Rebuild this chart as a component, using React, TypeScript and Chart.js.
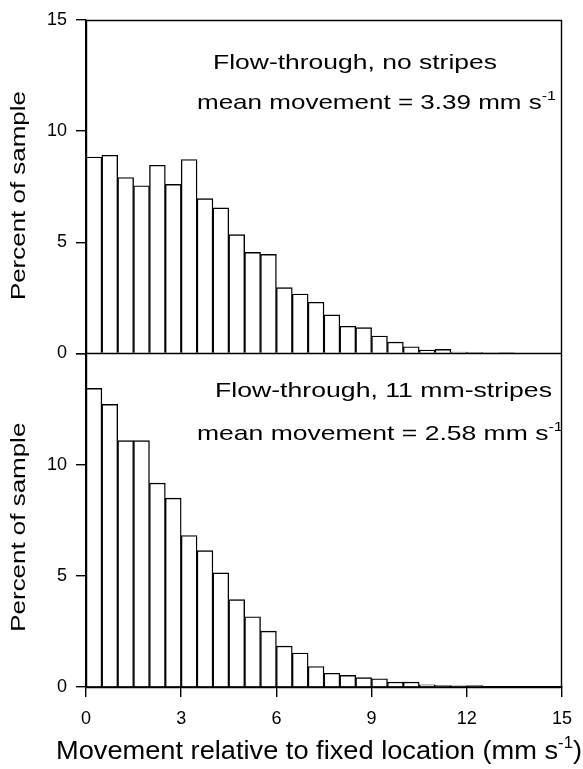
import React, { useEffect, useRef } from 'react';
import { Chart, registerables } from 'chart.js';

Chart.register(...registerables);

// Bin centres of the 0.5 mm/s histogram bins (mm s-1)
const BIN_CENTERS = [
  0.25, 0.75, 1.25, 1.75, 2.25, 2.75, 3.25, 3.75, 4.25, 4.75,
  5.25, 5.75, 6.25, 6.75, 7.25, 7.75, 8.25, 8.75, 9.25, 9.75,
  10.25, 10.75, 11.25, 11.75, 12.25, 12.75, 13.25,
];

// Percent of sample, flow-through, no stripes
const TOP_VALUES = [
  8.83, 8.91, 7.91, 7.54, 8.46, 7.6, 8.72, 6.96, 6.54, 5.34,
  4.54, 4.45, 2.96, 2.67, 2.3, 1.73, 1.22, 1.16, 0.78, 0.51,
  0.3, 0.15, 0.18, 0.06, 0.05, 0.03, 0.04,
];

// Percent of sample, flow-through, 11 mm-stripes
const BOTTOM_VALUES = [
  13.43, 12.71, 11.08, 11.08, 9.17, 8.49, 6.81, 6.13, 5.13, 3.93,
  3.16, 2.51, 1.84, 1.53, 0.92, 0.62, 0.52, 0.42, 0.37, 0.22,
  0.22, 0.1, 0.06, 0.05, 0.06, null, null,
];

const X_TICKS = [0, 3, 6, 9, 12, 15];
const Y_TICKS = [0, 5, 10, 15];

const TOP_LABEL = 'Flow-through, no stripes';
const TOP_MEAN = 'mean movement = 3.39 mm s';
const BOTTOM_LABEL = 'Flow-through, 11 mm-stripes';
const BOTTOM_MEAN = 'mean movement = 2.58 mm s';
const Y_TITLE = 'Percent of sample';
const X_TITLE = 'Movement relative to fixed location (mm s';

const FONT = '"Liberation Sans", Arial, Helvetica, sans-serif';

type Part = { t: string; sup?: boolean };

function drawParts(
  ctx: CanvasRenderingContext2D,
  parts: Part[],
  x: number,
  y: number,
  size: number,
  target: number,
  align: 'left' | 'right' | 'center',
  rotate = false
) {
  ctx.save();
  ctx.fillStyle = '#000';
  ctx.textBaseline = 'alphabetic';
  ctx.textAlign = 'left';
  let natural = 0;
  const widths: number[] = [];
  for (const p of parts) {
    ctx.font = `${p.sup ? Math.round(size * 0.62) : size}px ${FONT}`;
    const w = ctx.measureText(p.t).width;
    widths.push(w);
    natural += w;
  }
  const s = target / natural;
  ctx.translate(x, y);
  if (rotate) ctx.rotate(-Math.PI / 2);
  const start = align === 'left' ? 0 : align === 'right' ? -target : -target / 2;
  ctx.translate(start, 0);
  ctx.scale(s, 1);
  let cx = 0;
  parts.forEach((p, i) => {
    ctx.font = `${p.sup ? Math.round(size * 0.62) : size}px ${FONT}`;
    ctx.fillText(p.t, cx, p.sup ? -size * 0.42 : 0);
    cx += widths[i];
  });
  ctx.restore();
}

const framePlugin = {
  id: 'frameAndText',
  afterDraw(chart: any) {
    const { ctx, chartArea: a, scales } = chart;
    const yTop = scales.yTop;
    const yBot = scales.yBot;
    const L = Math.round(a.left) + 0.5;
    const R = Math.round(a.right) - 0.5;
    const T = Math.round(a.top) + 0.5;
    const B = Math.round(a.bottom) + 0.5;
    const M = Math.round(yTop.getPixelForValue(0)) + 0.5;
    ctx.save();
    ctx.strokeStyle = '#000';
    ctx.lineWidth = 1.4;
    ctx.beginPath();
    ctx.moveTo(L, B);
    ctx.lineTo(L, T);
    ctx.lineTo(R, T);
    ctx.lineTo(R, B);
    ctx.lineTo(L, B);
    ctx.moveTo(L, M);
    ctx.lineTo(R, M);
    ctx.stroke();
    ctx.restore();

    // panel annotations
    drawParts(ctx, [{ t: TOP_LABEL }], 213, 69, 21, 284, 'left');
    drawParts(ctx, [{ t: TOP_MEAN }, { t: '-1', sup: true }], 197, 109, 21, 359, 'left');
    drawParts(ctx, [{ t: BOTTOM_LABEL }], 215, 397, 21, 337, 'left');
    drawParts(ctx, [{ t: BOTTOM_MEAN }, { t: '-1', sup: true }], 197, 440, 21, 366, 'left');

    // axis titles
    const topMid = (yTop.top + yTop.bottom) / 2 + 9;
    const botMid = (yBot.top + yBot.bottom) / 2 + 7;
    drawParts(ctx, [{ t: Y_TITLE }], 25, topMid, 21, 209, 'center', true);
    drawParts(ctx, [{ t: Y_TITLE }], 25, botMid, 21, 209, 'center', true);
    drawParts(
      ctx,
      [{ t: X_TITLE }, { t: '-1', sup: true }, { t: ')' }],
      56,
      759,
      26,
      526,
      'left'
    );
  },
};

export default function App() {
  const ref = useRef<HTMLCanvasElement | null>(null);

  useEffect(() => {
    if (!ref.current) return;
    const tickFont = { family: FONT, size: 18 };
    const grid = {
      drawOnChartArea: false,
      drawTicks: true,
      offset: false,
      tickLength: 10,
      color: '#000',
      lineWidth: 1.4,
    };
    const chart = new Chart(ref.current, {
      type: 'bar',
      data: {
        datasets: [
          {
            label: 'No stripes',
            data: BIN_CENTERS.map((x, i) => ({ x, y: TOP_VALUES[i] })),
            yAxisID: 'yTop',
            xAxisID: 'x',
            backgroundColor: '#ffffff',
            borderColor: '#000000',
            borderWidth: 1.4,
            barPercentage: 1,
            categoryPercentage: 1,
            grouped: false,
          },
          {
            label: '11 mm-stripes',
            data: BIN_CENTERS.map((x, i) => ({ x, y: BOTTOM_VALUES[i] })),
            yAxisID: 'yBot',
            xAxisID: 'x',
            backgroundColor: '#ffffff',
            borderColor: '#000000',
            borderWidth: 1.4,
            barPercentage: 1,
            categoryPercentage: 1,
            grouped: false,
          },
        ] as any,
      },
      options: {
        animation: false,
        responsive: false,
        devicePixelRatio: 1,
        layout: { padding: { top: 15, right: 18, left: 0, bottom: 0 } },
        plugins: {
          legend: { display: false },
          tooltip: { enabled: false },
        },
        scales: {
          x: {
            type: 'linear',
            position: 'bottom',
            offset: false,
            min: 0,
            max: 15,
            afterBuildTicks: (s: any) => {
              s.ticks = X_TICKS.map((v) => ({ value: v }));
            },
            afterFit: (s: any) => {
              s.height = 82;
            },
            ticks: {
              color: '#000',
              font: tickFont,
              padding: 11,
              maxRotation: 0,
            },
            grid,
            border: { display: true, color: '#000', width: 1.4 },
          },
          yBot: {
            type: 'linear',
            position: 'left',
            stack: 'panels',
            stackWeight: 1,
            min: 0,
            max: 15,
            afterBuildTicks: (s: any) => {
              s.ticks = Y_TICKS.map((v) => ({ value: v }));
            },
            afterFit: (s: any) => {
              s.width = 86;
            },
            ticks: {
              color: '#000',
              font: tickFont,
              padding: 9,
              callback: (v: any) => (v === 15 ? '' : String(v)),
            },
            grid,
            border: { display: true, color: '#000', width: 1.4 },
          },
          yTop: {
            type: 'linear',
            position: 'left',
            stack: 'panels',
            stackWeight: 1,
            min: 0,
            max: 15,
            afterBuildTicks: (s: any) => {
              s.ticks = Y_TICKS.map((v) => ({ value: v }));
            },
            afterFit: (s: any) => {
              s.width = 86;
            },
            ticks: { color: '#000', font: tickFont, padding: 9 },
            grid,
            border: { display: true, color: '#000', width: 1.4 },
          },
        },
      } as any,
      plugins: [framePlugin],
    });
    return () => chart.destroy();
  }, []);

  return (
    <div style={{ position: 'absolute', left: 0, top: 0, width: 583, height: 769, background: '#fff' }}>
      <canvas ref={ref} width={583} height={769} style={{ display: 'block' }} />
    </div>
  );
}
